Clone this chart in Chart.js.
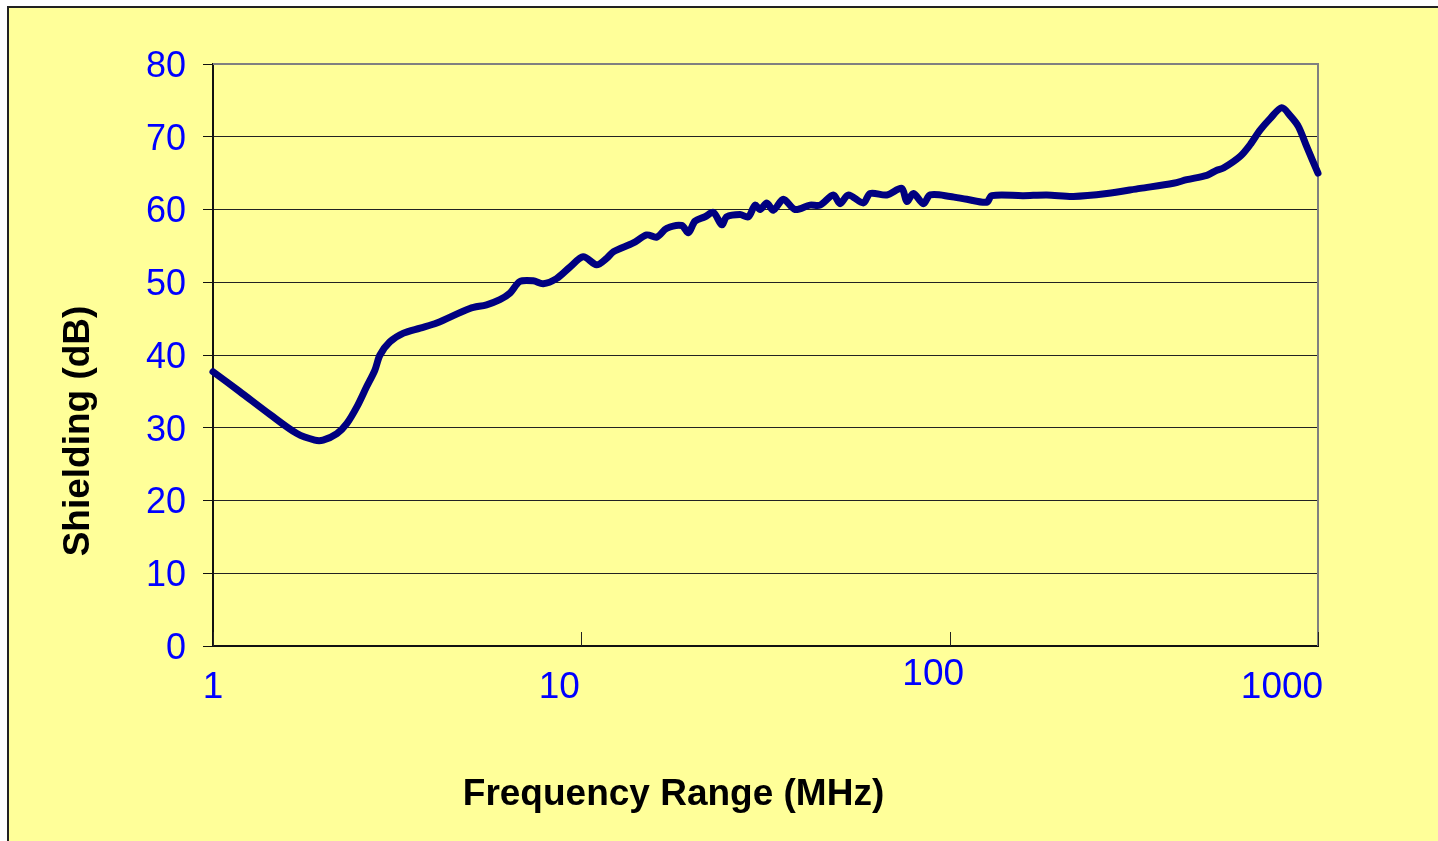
<!DOCTYPE html>
<html>
<head>
<meta charset="utf-8">
<script src="https://cdn.jsdelivr.net/npm/chart.js@4.4.1/dist/chart.umd.min.js"></script>
<style>
  html, body { margin: 0; padding: 0; background: #ffffff; width: 1438px; height: 841px; overflow: hidden; }
  #frame { position: absolute; left: 7px; top: 6px; width: 1500px; height: 900px; background: #FFFF99;
           border-left: 2px solid #222; border-top: 2px solid #222; }
  #c { position: absolute; left: 0; top: 0; }
</style>
</head>
<body>
<div id="frame"></div>
<canvas id="c" width="1438" height="841"></canvas>
<script>
// ---- data ----
const frequencyMHz = [
  1.00, 1.18, 1.43, 1.69, 1.89, 1.99, 2.17, 2.31, 2.46, 2.61, 2.75, 2.84, 3.02, 3.29, 3.65, 4.05,
  4.98, 5.53, 6.01, 6.40, 6.81, 7.40, 7.88, 8.56, 9.32, 10.12, 11.0, 11.72, 12.22, 13.84, 15.05,
  16.02, 17.05, 18.74, 19.52, 20.36, 21.67, 22.83, 24.06, 24.82, 26.98, 28.41, 29.62, 30.57,
  31.87, 33.21, 35.36, 38.04, 41.78, 44.47, 48.33, 50.4, 53.1, 58.3, 60.8, 67.5, 74.1, 76.5,
  79.7, 84.9, 88.5, 100.3, 111.3, 126.1, 130.1, 158.5, 183.5, 216.7, 267.1, 328.9, 405, 440.4,
  499, 531.2, 553.6, 614.6, 654, 696.1, 741.2, 797.6, 840.1, 884.9, 932.6, 1000
];
const shieldingDB = [
  37.7, 35.0, 31.8, 29.2, 28.3, 28.3, 29.2, 30.6, 32.9, 35.6, 37.9, 40.0, 41.8, 43.0, 43.7, 44.4,
  46.4, 46.9, 47.6, 48.5, 50.1, 50.2, 49.8, 50.5, 52.1, 53.5, 52.4, 53.3, 54.2, 55.4, 56.5,
  56.2, 57.4, 57.8, 56.8, 58.4, 59.0, 59.6, 57.9, 59.0, 59.3, 59.0, 60.6, 60.0,
  60.9, 59.9, 61.4, 60.0, 60.6, 60.6, 62.0, 60.8, 62.0, 60.9, 62.2, 62.0, 62.9, 61.1,
  62.2, 60.8, 62.0, 61.8, 61.4, 61.0, 61.9, 61.9, 62.0, 61.8, 62.2, 62.9, 63.6, 64.1,
  64.7, 65.4, 65.7, 67.3, 68.9, 70.9, 72.5, 74.0, 72.9, 71.4, 68.6, 65.0
];
const xTickValues = [1, 10, 100, 1000];
const xTickLabels = ['1', '10', '100', '1000'];
const yTickMin = 0, yTickMax = 80, yTickStep = 10;
const xTitle = 'Frequency Range (MHz)';
const yTitle = 'Shielding (dB)';

// ---- layout / style ----
const labelOffsets = [ {dx: 0, y: 688}, {dx: -22, y: 688}, {dx: -16.5, y: 675}, {dx: -36, y: 688} ];
const FONT = "'Liberation Sans', Arial, Helvetica, sans-serif";

const points = frequencyMHz.map((f, i) => ({ x: f, y: shieldingDB[i] }));

const decorPlugin = {
  id: 'decor',
  beforeDatasetsDraw(chart) {
    const ctx = chart.ctx, ca = chart.chartArea;
    ctx.save();
    ctx.strokeStyle = '#808080';
    ctx.lineWidth = 2;
    ctx.beginPath();
    ctx.moveTo(ca.left, ca.top);
    ctx.lineTo(ca.right, ca.top);
    ctx.lineTo(ca.right, ca.bottom);
    ctx.stroke();
    ctx.restore();
  },
  afterDraw(chart) {
    const ctx = chart.ctx;
    const xs = chart.scales.x, ca = chart.chartArea;
    ctx.save();
    // inner x ticks
    ctx.strokeStyle = '#222';
    ctx.lineWidth = 1;
    xTickValues.forEach(v => {
      const px = Math.round(xs.getPixelForValue(v)) + 0.5;
      ctx.beginPath();
      ctx.moveTo(px, ca.bottom);
      ctx.lineTo(px, ca.bottom - 14);
      ctx.stroke();
    });
    // x tick labels
    ctx.fillStyle = '#0000FF';
    ctx.font = '37px ' + FONT;
    ctx.textAlign = 'center';
    ctx.textBaseline = 'middle';
    xTickValues.forEach((v, i) => {
      const px = xs.getPixelForValue(v) + labelOffsets[i].dx;
      ctx.fillText(xTickLabels[i], px, labelOffsets[i].y);
    });
    // axis titles
    ctx.fillStyle = '#000';
    ctx.font = 'bold 37px ' + FONT;
    ctx.textBaseline = 'alphabetic';
    ctx.fillText(xTitle, 673.5, 805);
    ctx.translate(89, 431);
    ctx.rotate(-Math.PI / 2);
    ctx.fillText(yTitle, 0, 0);
    ctx.restore();
  }
};

new Chart(document.getElementById('c'), {
  type: 'scatter',
  data: {
    datasets: [{
      data: points,
      showLine: true,
      borderColor: '#000080',
      backgroundColor: '#000080',
      borderWidth: 7,
      pointRadius: 0,
      tension: 0.3,
      borderJoinStyle: 'round',
      borderCapStyle: 'round',
      clip: false
    }]
  },
  options: {
    responsive: false,
    animation: false,
    layout: { padding: { left: 0, top: 64, right: 120, bottom: 0 } },
    plugins: { legend: { display: false }, tooltip: { enabled: false } },
    scales: {
      x: {
        type: 'logarithmic',
        min: 1, max: 1000,
        grid: { display: false, drawTicks: false },
        border: { display: true, color: '#111', width: 2 },
        ticks: { display: false },
        afterFit(scale) { scale.height = 195; }
      },
      y: {
        type: 'linear',
        min: yTickMin, max: yTickMax,
        grid: {
          color: ctx => (ctx.tick && ctx.tick.value === yTickMax) ? '#808080' : '#222',
          lineWidth: 1,
          tickColor: '#111',
          tickLength: 10,
          drawTicks: true
        },
        border: { display: true, color: '#111', width: 2 },
        ticks: {
          stepSize: yTickStep,
          color: '#0000FF',
          font: { family: FONT, size: 36 },
          padding: 17,
          labelOffset: 3
        },
        afterFit(scale) { scale.width = 213; }
      }
    }
  },
  plugins: [decorPlugin]
});
</script>
</body>
</html>
